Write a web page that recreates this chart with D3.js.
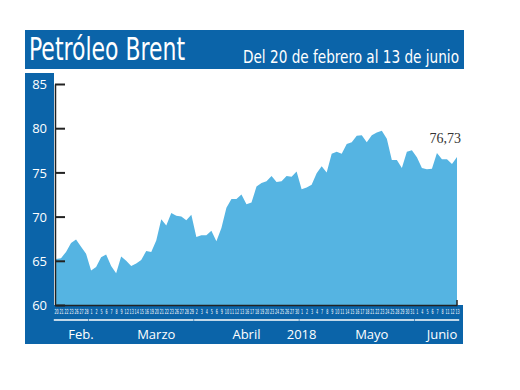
<!DOCTYPE html>
<html><head><meta charset="utf-8">
<script src="https://cdn.jsdelivr.net/npm/d3@7"></script>
<style>
html,body{margin:0;padding:0;background:#fff;}
svg{display:block;}
</style></head>
<body>
<svg id="c" width="520" height="390"></svg>
<script>
const title = "Petróleo Brent";
const subtitle = "Del 20 de febrero al 13 de junio";
const lastLabel = "76,73";
const yearLabel = "2018";
const yTicks = [60, 65, 70, 75, 80, 85];

const monthNames = ["Feb.", "Marzo", "Abril", "Mayo", "Junio"];
const febDays = [20,21,22,23,26,27,28];
const marDays = [1,2,5,6,7,8,9,12,13,14,15,16,19,20,21,22,23,26,27,28,29];
const aprDays = [2,3,4,5,6,9,10,11,12,13,16,17,18,19,20,23,24,25,26,27,30];
const mayDays = [1,2,3,4,7,8,9,10,11,14,15,16,17,18,21,22,23,24,25,28,29,30,31];
const junDays = [1,4,5,6,7,8,11,12,13];
// day of each month under which its name is written
const monthLabelDay = [27, 20, 16, 21, 8];

const prices = [
 65.2, 65.3, 66.0, 67.0, 67.4, 66.6, 65.8,
 63.9, 64.3, 65.4, 65.7, 64.4, 63.6, 65.5, 65.0, 64.4, 64.7, 65.1, 66.1, 66.0, 67.3,
 69.7, 69.0, 70.4, 70.1, 70.0, 69.6, 70.2,
 67.7, 67.9, 67.9, 68.4, 67.2, 68.7, 71.0, 72.0, 72.0, 72.5, 71.4, 71.6, 73.4,
 73.8, 74.0, 74.6, 73.9, 74.0, 74.6, 74.5, 75.1,
 73.1, 73.3, 73.6, 74.9, 75.7, 75.0, 77.1, 77.35, 77.1, 78.2, 78.4, 79.15, 79.2,
 78.4, 79.2, 79.5, 79.7, 78.8, 76.4, 76.4, 75.5, 77.35, 77.5,
 76.7, 75.5, 75.35, 75.4, 77.2, 76.5, 76.5, 75.95, 76.73
];

const monthDays = [febDays, marDays, aprDays, mayDays, junDays];
const days = [];
monthDays.forEach((arr, m) => arr.forEach(d => days.push({m, d})));
const data = days.map((o, i) => ({i, m: o.m, d: o.d, v: prices[i]}));

const C = {dark: "#0b64a9", light: "#55b4e2"};
const svg = d3.select("#c");

const x = d3.scaleLinear().domain([0, data.length - 1]).range([56, 457]);
const y = d3.scaleLinear().domain([60, 85]).range([305, 84]);

// banner
svg.append("rect").attr("x", 25).attr("y", 30).attr("width", 439).attr("height", 39).attr("fill", C.dark);
svg.append("text").attr("x", 29).attr("y", 60).text(title)
  .attr("fill", "#fff").attr("font-family", "'Liberation Sans Narrow','DejaVu Sans Condensed',sans-serif")
  .attr("font-size", 32).attr("textLength", 156).attr("lengthAdjust", "spacingAndGlyphs");
svg.append("text").attr("x", 459).attr("y", 63).attr("text-anchor", "end").text(subtitle)
  .attr("fill", "#fff").attr("font-family", "'Liberation Sans Narrow','DejaVu Sans Condensed',sans-serif")
  .attr("font-size", 17.5).attr("textLength", 216).attr("lengthAdjust", "spacingAndGlyphs");

// panel L shape
svg.append("rect").attr("x", 25).attr("y", 73).attr("width", 29).attr("height", 271).attr("fill", C.dark);
svg.append("rect").attr("x", 25).attr("y", 305).attr("width", 438).attr("height", 39).attr("fill", C.dark);

// area
const area = d3.area().x(d => x(d.i)).y0(y(60)).y1(d => y(d.v));
svg.append("path").datum(data).attr("d", area).attr("fill", C.light);

// y axis
const yAxis = d3.axisLeft(y).tickValues(yTicks).tickSizeInner(-10).tickSizeOuter(0).tickPadding(8);
const gy = svg.append("g").attr("transform", "translate(55,0)").call(yAxis);
gy.select(".domain").attr("stroke", "#222").attr("stroke-width", 1.5);
gy.selectAll(".tick line").attr("stroke", "#222").attr("stroke-width", 2);
gy.selectAll(".tick text").attr("fill", "#fff").attr("font-family", "'Open Sans',Lato,sans-serif")
  .attr("font-size", 13).attr("dy", "0.36em");

// x axis
const xAxis = d3.axisBottom(x).tickValues(data.map(d => d.i)).tickSize(0).tickPadding(4)
  .tickFormat(i => data[i].d);
const gx = svg.append("g").attr("transform", `translate(0,${y(60)})`).call(xAxis);
gx.select(".domain").attr("stroke", "#222").attr("stroke-width", 1.5);
gx.selectAll(".tick text").attr("fill", "#fff")
  .attr("font-family", "'DejaVu Sans Condensed','Liberation Sans Narrow',sans-serif")
  .attr("font-size", 7)
  .attr("transform", "scale(0.52,1)");

// end tick
svg.append("line").attr("x1", x(data.length - 1)).attr("x2", x(data.length - 1))
  .attr("y1", y(60) - 5).attr("y2", y(60)).attr("stroke", "#222").attr("stroke-width", 1.5);

// month underlines and labels
monthDays.forEach((arr, m) => {
  const pts = data.filter(d => d.m === m);
  const x0 = x(pts[0].i) - 2.2, x1 = x(pts[pts.length - 1].i) + 2.2;
  svg.append("line").attr("x1", x0).attr("x2", x1).attr("y1", 320).attr("y2", 320)
    .attr("stroke", "#fff").attr("stroke-width", 1.3);
  const lp = pts.find(d => d.d === monthLabelDay[m]);
  svg.append("text").attr("x", x(lp.i)).attr("y", 339).attr("text-anchor", "middle")
    .text(monthNames[m]).attr("fill", "#fff").attr("font-family", "'Open Sans',Lato,sans-serif").attr("font-size", 13);
});
// year label at start of May
const mayFirst = data.find(d => d.m === 3);
svg.append("text").attr("x", x(mayFirst.i)).attr("y", 339).attr("text-anchor", "middle")
  .text(yearLabel).attr("fill", "#fff").attr("font-family", "'Open Sans',Lato,sans-serif").attr("font-size", 13);

// last value label
const last = data[data.length - 1];
svg.append("text").attr("x", x(last.i) + 4).attr("y", y(last.v) - 14).attr("text-anchor", "end")
  .text(lastLabel).attr("fill", "#333").attr("font-family", "'Liberation Serif','DejaVu Serif',serif").attr("font-size", 14);
</script>
</body></html>
